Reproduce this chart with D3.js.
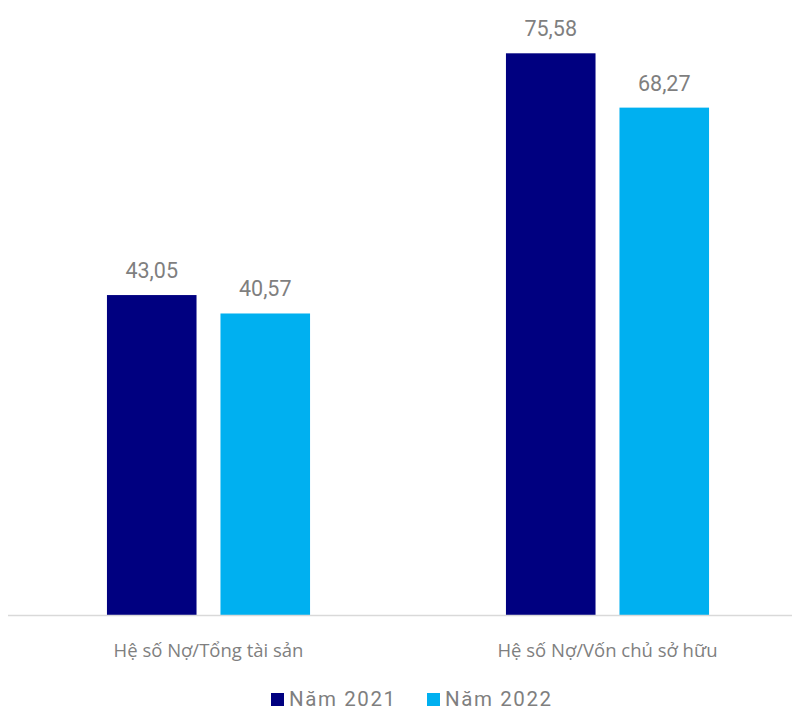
<!DOCTYPE html>
<html><head><meta charset="utf-8">
<script src="https://cdn.jsdelivr.net/npm/d3@7"></script>
<style>body{margin:0;background:#fff}svg{display:block}</style>
</head><body>
<svg id="c" width="792" height="711"></svg>
<script>
const categories = ["Hệ số Nợ/Tổng tài sản", "Hệ số Nợ/Vốn chủ sở hữu"];
const seriesNames = ["Năm 2021", "Năm 2022"];
const values2021 = [43.05, 75.58];
const values2022 = [40.57, 68.27];
const colors = ["#000080", "#00B0F0"];

const svg = d3.select("#c");
const baseY = 615;
const y = d3.scaleLinear().domain([0, 75.58]).range([baseY, 53.3]);
const x0 = d3.scaleBand().domain(categories).range([9, 807]).paddingInner(0.491).paddingOuter(0.2455);
const x1 = d3.scaleBand().domain(seriesNames).range([0, x0.bandwidth()]).paddingInner(0.211).paddingOuter(0);
const color = d3.scaleOrdinal().domain(seriesNames).range(colors);
const fmt = v => d3.format(".2f")(v).replace(".", ",");

const data = categories.map((c, i) => ({cat: c, vals: [
  {s: seriesNames[0], v: values2021[i]},
  {s: seriesNames[1], v: values2022[i]}]}));

const g = svg.selectAll("g.grp").data(data).join("g")
  .attr("transform", d => `translate(${x0(d.cat)},0)`);
g.selectAll("rect").data(d => d.vals).join("rect")
  .attr("x", d => x1(d.s)).attr("width", x1.bandwidth())
  .attr("y", d => y(d.v)).attr("height", d => baseY - y(d.v))
  .attr("fill", d => color(d.s));
g.selectAll("text.val").data(d => d.vals).join("text")
  .attr("class", "val")
  .attr("x", d => x1(d.s) + x1.bandwidth() / 2)
  .attr("y", d => y(d.v) - 17)
  .attr("text-anchor", "middle")
  .attr("font-family", "Roboto, sans-serif").attr("font-size", 21.5)
  .attr("fill", "#7f7f7f")
  .text(d => fmt(d.v));

// axis baseline
svg.append("line").attr("x1", 8).attr("x2", 792).attr("y1", baseY + 0.5).attr("y2", baseY + 0.5)
  .attr("stroke", "#d9d9d9").attr("stroke-width", 1.5);

// category labels
svg.selectAll("text.cat").data(categories).join("text")
  .attr("class", "cat")
  .attr("x", d => x0(d) + x0.bandwidth() / 2)
  .attr("y", 657)
  .attr("text-anchor", "middle")
  .attr("font-family", "'Open Sans', 'Noto Sans', sans-serif").attr("font-size", 18.5)
  .attr("fill", "#7f7f7f")
  .text(d => d);

// legend
const legX = [271, 427];
const lg = svg.selectAll("g.leg").data(seriesNames).join("g")
  .attr("transform", (d, i) => `translate(${legX[i]},0)`);
lg.append("rect").attr("x", 0).attr("y", 693).attr("width", 13).attr("height", 13)
  .attr("fill", d => color(d));
lg.append("text").attr("x", 18).attr("y", 706)
  .attr("font-family", "Roboto, sans-serif").attr("font-size", 20.5)
  .attr("letter-spacing", 1.6)
  .attr("fill", "#7f7f7f").text(d => d);
</script>
</body></html>
